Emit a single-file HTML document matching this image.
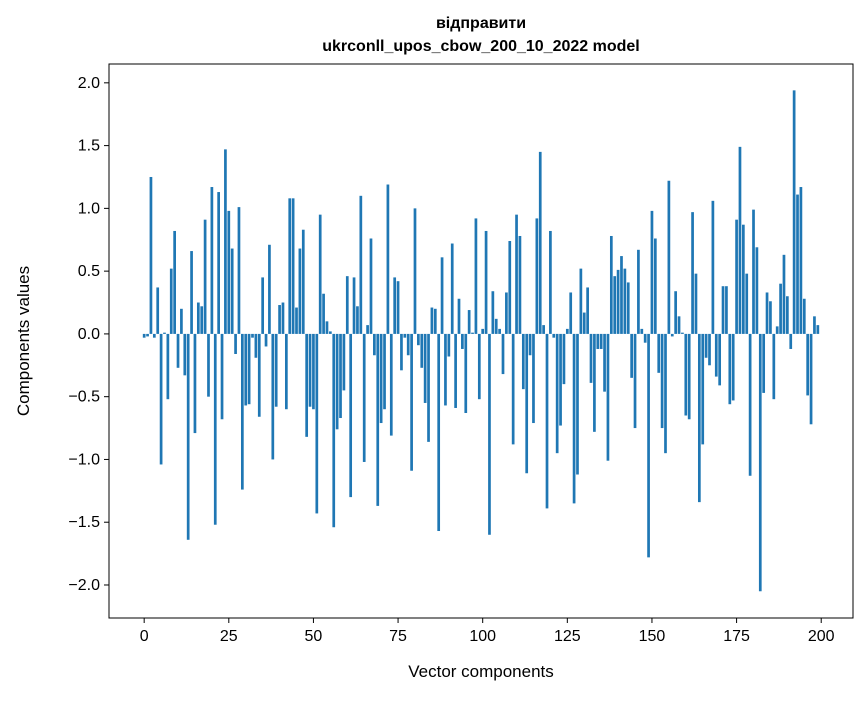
<!DOCTYPE html>
<html><head><meta charset="utf-8"><style>
body{margin:0;background:#fff;}
svg text{font-family:"Liberation Sans","DejaVu Sans",sans-serif;fill:#000;}
</style></head><body>
<svg id="chart" width="867" height="696" xmlns="http://www.w3.org/2000/svg">
<rect width="867" height="696" fill="#fff"/>
<text x="481" y="28" font-size="16" font-weight="bold" text-anchor="middle">відправити</text>
<text x="481" y="51" font-size="16" font-weight="bold" text-anchor="middle">ukrconll_upos_cbow_200_10_2022 model</text>
<g id="bars"></g>
<g id="axes"></g>
<text x="481" y="677" font-size="17" text-anchor="middle">Vector components</text>
<text transform="translate(29,341) rotate(-90)" font-size="17" text-anchor="middle">Components values</text>
</svg>
<script>
const values=[-0.03,-0.02,1.25,-0.03,0.37,-1.04,0.01,-0.52,0.52,0.82,-0.27,0.2,-0.33,-1.64,0.66,-0.79,0.25,0.22,0.91,-0.5,1.17,-1.52,1.13,-0.68,1.47,0.98,0.68,-0.16,1.01,-1.24,-0.57,-0.56,-0.03,-0.19,-0.66,0.45,-0.1,0.71,-1.0,-0.58,0.23,0.25,-0.6,1.08,1.08,0.21,0.68,0.83,-0.82,-0.58,-0.6,-1.43,0.95,0.32,0.1,0.02,-1.54,-0.76,-0.67,-0.45,0.46,-1.3,0.45,0.22,1.1,-1.02,0.07,0.76,-0.17,-1.37,-0.71,-0.6,1.19,-0.81,0.45,0.42,-0.29,-0.03,-0.17,-1.09,1.0,-0.09,-0.27,-0.55,-0.86,0.21,0.2,-1.57,0.61,-0.57,-0.18,0.72,-0.59,0.28,-0.12,-0.63,0.19,0.01,0.92,-0.52,0.04,0.82,-1.6,0.34,0.12,0.04,-0.32,0.33,0.74,-0.88,0.95,0.78,-0.44,-1.11,-0.17,-0.71,0.92,1.45,0.07,-1.39,0.82,-0.03,-0.95,-0.73,-0.4,0.04,0.33,-1.35,-1.12,0.52,0.17,0.37,-0.39,-0.78,-0.12,-0.12,-0.46,-1.01,0.78,0.46,0.51,0.62,0.52,0.41,-0.35,-0.75,0.67,0.04,-0.07,-1.78,0.98,0.76,-0.31,-0.75,-0.95,1.22,-0.02,0.34,0.14,0.01,-0.65,-0.68,0.97,0.48,-1.34,-0.88,-0.19,-0.25,1.06,-0.34,-0.41,0.38,0.38,-0.56,-0.53,0.91,1.49,0.87,0.48,-1.13,0.99,0.69,-2.05,-0.47,0.33,0.26,-0.52,0.06,0.4,0.63,0.3,-0.12,1.94,1.11,1.17,0.28,-0.49,-0.72,0.14,0.07];
const xTicks=[0,25,50,75,100,125,150,175,200];
const yTicks=[-2.0,-1.5,-1.0,-0.5,0.0,0.5,1.0,1.5,2.0];
const L=109,R=853,T=64,B=618;
const x0=-10.39,x1=209.39,y0=-2.263,y1=2.15;
const sx=v=>L+(v-x0)/(x1-x0)*(R-L);
const sy=v=>B-(v-y0)/(y1-y0)*(B-T);
const NS="http://www.w3.org/2000/svg";
const bars=document.getElementById('bars');
values.forEach((v,i)=>{
  const r=document.createElementNS(NS,'rect');
  const a=sx(i-0.4),b=sx(i+0.4);
  r.setAttribute('x',a);r.setAttribute('width',b-a);
  r.setAttribute('y',Math.min(sy(v),sy(0)));
  r.setAttribute('height',Math.abs(sy(v)-sy(0)));
  r.setAttribute('fill','#1f77b4');
  
  
  bars.appendChild(r);
});
const ax=document.getElementById('axes');
const fr=document.createElementNS(NS,'rect');
fr.setAttribute('x',L);fr.setAttribute('y',T);fr.setAttribute('width',R-L);fr.setAttribute('height',B-T);
fr.setAttribute('fill','none');fr.setAttribute('stroke','#000');fr.setAttribute('stroke-width','1');


ax.appendChild(fr);
xTicks.forEach(t=>{
  const X=sx(t);
  const l=document.createElementNS(NS,'line');
  l.setAttribute('x1',X);l.setAttribute('x2',X);l.setAttribute('y1',B);l.setAttribute('y2',B+5);l.setAttribute('stroke','#000');
  
  
  ax.appendChild(l);
  const tx=document.createElementNS(NS,'text');
  tx.setAttribute('x',X);tx.setAttribute('y',B+23);tx.setAttribute('font-size','16');tx.setAttribute('text-anchor','middle');
  tx.textContent=t;
  
  
  ax.appendChild(tx);
});
yTicks.forEach(t=>{
  const Y=sy(t);
  const l=document.createElementNS(NS,'line');
  l.setAttribute('x1',L-5);l.setAttribute('x2',L);l.setAttribute('y1',Y);l.setAttribute('y2',Y);l.setAttribute('stroke','#000');
  
  
  ax.appendChild(l);
  const tx=document.createElementNS(NS,'text');
  tx.setAttribute('x',L-9);tx.setAttribute('y',Y+5);tx.setAttribute('font-size','16');tx.setAttribute('text-anchor','end');
  tx.textContent=(t<0?'\u2212':'')+Math.abs(t).toFixed(1);
  
  
  ax.appendChild(tx);
});
</script>
</body></html>
